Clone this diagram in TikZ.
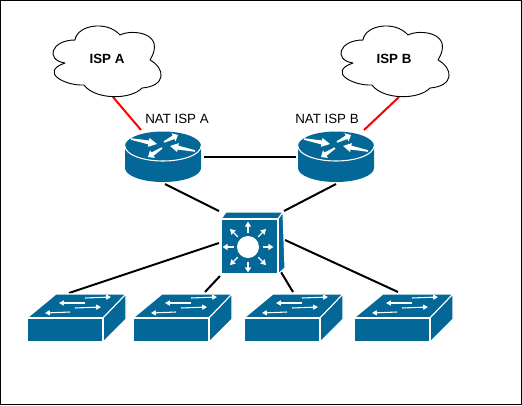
\documentclass[tikz,border=0pt]{standalone}
\usepackage{fontspec}
\setmainfont{Liberation Sans}
\usetikzlibrary{arrows.meta,calc}
\definecolor{ciscob}{HTML}{036897}
\newcommand{\taperarrow}[2]{%
  \coordinate (tp) at #1;
  \coordinate (tq) at #2;
  \coordinate (tn) at ($(tp)!0.68!(tq)$);
  \fill[white] ($(tp)!0.6pt!90:(tq)$) -- ($(tn)!1.5pt!90:(tq)$) -- ($(tn)!3.4pt!90:(tq)$) -- (tq)
    -- ($(tn)!3.4pt!-90:(tq)$) -- ($(tn)!1.5pt!-90:(tq)$) -- ($(tp)!0.6pt!-90:(tq)$) -- cycle;
}
\tikzset{
  x=0.75pt,y=-0.75pt,
  wire/.style={draw=black,line width=1.5pt},
  redwire/.style={draw=red,line width=1.5pt},
  thinarrow/.style={draw=white,line width=0.8pt,-{Triangle[length=3.6pt,width=3.8pt]}},
  spoke/.style={draw=white,line width=1pt,-{Triangle[length=3.8pt,width=4.4pt]}},
  bluebody/.style={fill=ciscob,draw=white,line width=0.8pt,line join=round},
  anchorpt/.style={inner sep=0pt,minimum size=0pt,outer sep=0pt},
  lbl/.style={inner sep=0pt,font=\fontsize{10}{12}\selectfont},
  cloudlbl/.style={inner sep=0pt,font=\fontsize{10}{12}\selectfont\bfseries},
  router/.pic={
    \path[fill=ciscob] (-38,-12) -- (-38,10) arc[start angle=180,end angle=0,x radius=38,y radius=14] -- (38,-12) arc[start angle=0,end angle=-180,x radius=38,y radius=14.5] -- cycle;
    \draw[white,line width=0.8pt] (-38,-12) arc[start angle=180,end angle=0,x radius=38,y radius=15];
    \taperarrow{(-32,-19)}{(-6,-14)}
    \taperarrow{(1,-16)}{(15,-23)}
    \taperarrow{(32,-7)}{(7,-12)}
    \taperarrow{(-1,-10)}{(-15,-1)}
  },
  layerthree/.pic={
    \path[bluebody] (-27,-28) -- (-22,-35) -- (35,-35) -- (30,-28) -- cycle;
    \path[bluebody] (30,-28) -- (35,-35) -- (37,21) -- (30,27) -- cycle;
    \path[bluebody] (-27,-28) rectangle (30,27);
    \fill[white] (0,0) circle[radius=11];
    \foreach \a in {0,45,...,315}
      \draw[spoke] (\a:14.5) -- (\a:25.5);
  },
  accesssw/.pic={
    \path[bluebody] (0,0) -- (29,-24) -- (99,-24) -- (76,0) -- cycle;
    \path[bluebody] (76,0) -- (99,-24) -- (99,1) -- (76,24) -- cycle;
    \path[bluebody] (0,0) rectangle (76,24);
    \draw[thinarrow] (58,-20) -- (84,-21);
    \draw[thinarrow] (58,-15) -- (32,-15);
    \draw[thinarrow] (48,-10) -- (74,-11);
    \draw[thinarrow] (43,-6) -- (18,-5);
  },
  cloudshape/.pic={
    \draw[fill=white,line width=0.7pt,line join=round] (-32,-22)
      .. controls (-30,-37) and (0,-42) .. (13,-27)
      .. controls (24,-33) and (60,-30) .. (43,-2)
      .. controls (58,6) and (60,24) .. (35,26)
      .. controls (24,38) and (-12,38) .. (-23,23)
      .. controls (-42,24) and (-68,10) .. (-42,1)
      .. controls (-62,-2) and (-56,-22) .. (-32,-22) -- cycle;
  },
}
\begin{document}
\begin{tikzpicture}
\useasboundingbox (0,0) rectangle (522,405);
\fill[white] (0,0) rectangle (522,405);
\draw[black,line width=0.75pt] (0.5,0.5) rectangle (521.5,404.5);
% device anchors
\node[anchorpt] (ra) at (163,158) {};
\node[anchorpt] (rb) at (336,158) {};
\node[anchorpt] (core) at (248,247) {};
\node[anchorpt] (sw1) at (27,318) {};
\node[anchorpt] (sw2) at (133,318) {};
\node[anchorpt] (sw3) at (244,318) {};
\node[anchorpt] (sw4) at (354,318) {};
\node[anchorpt] (ca) at (107,62) {};
\node[anchorpt] (cb) at (395,62) {};
% connectors
\draw[redwire] ($(ca)+(6,35)$) -- ($(ra)+(-22,-28)$);
\draw[redwire] ($(cb)+(4,35)$) -- ($(rb)+(28,-28)$);
\draw[wire] ($(ra)+(41,-1)$) -- ($(rb)+(-40,-1)$);
\draw[wire] ($(ra)+(2,26)$) -- ($(core)+(-29,-36)$);
\draw[wire] ($(rb)+(0,26)$) -- ($(core)+(36,-36)$);
\draw[wire] ($(core)+(-29,-4)$) -- ($(sw1)+(42,-25)$);
\draw[wire] ($(core)+(-28,29)$) -- ($(sw2)+(72,-26)$);
\draw[wire] ($(core)+(33,25)$) -- ($(sw3)+(49,-26)$);
\draw[wire] ($(core)+(37,-7)$) -- ($(sw4)+(44,-26)$);
% icons
\pic at (ra) {router};
\pic at (rb) {router};
\pic at (core) {layerthree};
\pic at (sw1) {accesssw};
\pic at (sw2) {accesssw};
\pic at (sw3) {accesssw};
\pic at (sw4) {accesssw};
\pic at (ca) {cloudshape};
\pic at (cb) {cloudshape};
% labels
\node[cloudlbl] (la) at (107,59) {ISP A};
\node[cloudlbl] (lb) at (394,59) {ISP B};
\node[lbl] (na) at (177,119) {NAT ISP A};
\node[lbl] (nb) at (327,119) {NAT ISP B};
\end{tikzpicture}
\end{document}
